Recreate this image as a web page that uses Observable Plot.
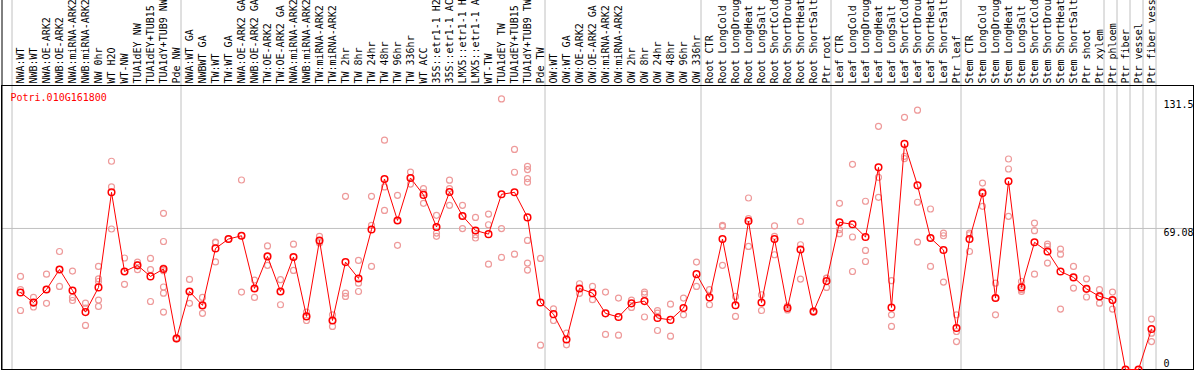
<!DOCTYPE html>
<html><head><meta charset="utf-8">
<script src="https://cdn.jsdelivr.net/npm/d3@7"></script>
<script src="https://cdn.jsdelivr.net/npm/@observablehq/plot@0.6"></script>
<style>body{margin:0;background:#fff}</style>
</head><body><div id="chart"></div>
<script>
const geneId = "Potri.010G161800";
const categories = [
  "NWA:WT","NWB:WT","NWA:OE-ARK2","NWB:OE-ARK2","NWA:miRNA-ARK2","NWB:miRNA-ARK2","NW 0hr","WT H2O","WT-NW","TUA1dEY NW","TUA1dEY+TUB15 NW","TUA1dY+TUB9 NW","Pde NW",
  "NWA:WT GA","NWBWT GA","TW:WT","TW:WT GA","NWA:OE-ARK2 GA","NWB:OE-ARK2 GA","TW:OE-ARK2","TW:OE-ARK2 GA","NWA:miRNA-ARK2 GA","NWB:miRNA-ARK2 GA","TW:miRNA-ARK2","TW:miRNA-ARK2 GA","TW 2hr","TW 8hr","TW 24hr","TW 48hr","TW 96hr","TW 336hr","WT ACC","35S::etr1-1 H2O","35S::etr1-1 ACC","LMX5::etr1-1 H2O","LMX5::etr1-1 ACC","WT-TW","TUA1dEY TW","TUA1dEY+TUB15 TW","TUA1dY+TUB9 TW","Pde TW",
  "OW:WT","OW:WT GA","OW:OE-ARK2","OW:OE-ARK2 GA","OW:miRNA-ARK2","OW:miRNA-ARK2 GA","OW 2hr","OW 8hr","OW 24hr","OW 48hr","OW 96hr","OW 336hr",
  "Root CTR","Root LongCold","Root LongDrought","Root LongHeat","Root LongSalt","Root ShortCold","Root ShortDrought","Root ShortHeat","Root ShortSalt","Ptr root",
  "Leaf CTR","Leaf LongCold","Leaf LongDrought","Leaf LongHeat","Leaf LongSalt","Leaf ShortCold","Leaf ShortDrought","Leaf ShortHeat","Leaf ShortSalt","Ptr leaf",
  "Stem CTR","Stem LongCold","Stem LongDrought","Stem LongHeat","Stem LongSalt","Stem ShortCold","Stem ShortDrought","Stem ShortHeat","Stem ShortSalt","Ptr shoot","Ptr xylem",
  "Ptr phloem","Ptr fiber","Ptr vessel","Ptr fiber vessel"
];
const means = [
  37.7,32.8,39.2,49.0,38.7,28.1,40.2,86.8,48.0,51.0,45.6,49.2,15.2,
  38.2,31.4,59.3,63.9,65.5,39.7,55.4,38.2,55.1,26.0,63.2,24.0,52.6,44.6,68.6,93.3,73.0,93.8,85.5,69.8,86.9,75.2,68.1,66.3,85.8,86.8,74.5,32.8,
  27.1,14.7,39.7,37.4,27.5,25.7,32.4,33.5,25.2,24.3,30.1,46.7,
  35.3,63.9,31.5,72.7,32.8,63.9,30.1,58.8,28.4,43.3,
  72.1,71.1,64.9,99.0,30.4,110.5,90.2,64.4,58.5,20.3,
  63.9,86.4,35.0,92.2,40.2,62.3,57.8,48.0,45.1,39.5,35.8,
  34.0,0,0,19.8
];
const replicates = [
  [45.6,39.1,28.9],[35.3,32.4,30.6],[46.7,39.2,32.4],[57.8,49.0,40.7],[48.2,35.3,33.8],[32.5,30.1,21.6],[50.5,44.4,43.1,34.0,30.9],[102.0,89.4,68.8],[54.6,48.0,41.7],[52.6,51.3,48.9],[54.4,48.9,33.3],[76.5,62.7,49.7,48.4,40.4,37.4,28.1],[15.5,15.0],
  [44.1,38.2,32.4],[35.3,31.4,27.5],[62.4,62.1,52.7],[63.9],[92.8,65.5,37.9],[43.8,39.7,35.3],[60.5,55.4,51.0],[44.0,38.2,31.7],[61.4,55.1,48.5],[28.1,26.0,24.0],[65.2,62.4,62.0],[26.8,24.0,21.1],[84.8,37.4,35.8],[53.4,42.3,38.2],[84.8,70.6,50.5],[112.3,89.4,77.9],[85.3,73.0,60.8],[96.7,93.8,90.8],[88.6,86.6,81.4],[75.5,69.8,66.8,65.2],[92.7,88.6,80.4],[80.4,75.2,69.0],[74.5,66.0,64.4],[76.1,70.9,51.6],[132.5,69.0,54.9],[107.8,96.6,56.5],[99.5,97.9,93.5,91.7,63.2,52.1,48.7],[54.4,11.9],
  [29.7,24.0],[17.8,12.1],[42.0,37.3],[40.7,34.2],[37.9,17.2],[35.0,16.8],[34.0,30.4],[37.9,36.9,25.7],[28.8,27.6,19.1],[32.0,16.3],[35.0,26.8],[52.6,40.7],
  [39.1,31.7],[70.6,70.1,51.0],[35.8,26.0],[84.0,73.9,60.3],[36.6,28.9],[70.3,65.2,56.2],[31.0,29.2],[72.5,61.1,44.3],[28.7,28.1],[44.8,44.6,40.2],
  [81.4,68.5,66.5],[100.5,64.9,48.0],[82.4,58.3,52.9],[119.1,94.1,84.3],[43.5,26.8,21.1],[123.5,104.4,103.3],[127.0,81.9,62.4],[78.6,64.4,50.5],[66.8,65.5,42.8],[26.8,18.6,13.7],
  [66.8,66.0,57.8],[91.3,87.3,79.9],[42.3,35.0,26.8],[103.1,98.2,75.0],[43.1,39.1,38.2],[71.7,68.0,46.7],[61.4,60.3,52.1],[59.0,56.5,29.6],[50.5,45.1,39.9],[44.4,39.5,35.5],[39.1,35.5,32.5],
  [37.9,33.8,29.6],[0],[0],[24.7,17.8,13.7]
];
const groupSizes = [13, 28, 12, 10, 10, 11, 1, 1, 1, 1];
const yTicks = [0, 69.08, 131.5];
const refLine = 69.08;

const meanData = categories.map((c, i) => ({cat: c, value: means[i]}));
const repData = categories.flatMap((c, i) => replicates[i].map(v => ({cat: c, value: v})));
let acc = 0;
const boundaries = groupSizes.map(s => { const c = categories[acc]; acc += s; return c; });
const lastCat = categories[categories.length - 1];

const chart = Plot.plot({
  width: 1194, height: 370,
  marginTop: 86, marginBottom: 1, marginLeft: 11, marginRight: 39,
  style: {fontFamily: "'DejaVu Sans Mono', monospace", fontSize: "10px", background: "white", color: "black"},
  x: {type: "point", domain: categories, padding: 0.5, axis: null},
  y: {domain: [0, 138.6], axis: null},
  marks: [
    Plot.ruleY([refLine], {stroke: "#c0c0c0", insetLeft: -10, insetRight: -38}),
    Plot.ruleX(boundaries, {x: d => d, dx: -6.5, stroke: "#c0c0c0", insetTop: -86}),
    Plot.ruleX([lastCat], {x: d => d, dx: 6.5, stroke: "#c0c0c0", insetTop: -86}),
    Plot.frame({stroke: "black", insetLeft: -10, insetRight: -38, insetTop: -1}),
    Plot.ruleX([categories[0]], {x: d => d, dx: -16.5, stroke: "black", insetTop: -86}),
    Plot.text(categories, {x: d => d, frameAnchor: "top", rotate: -90, textAnchor: "start", lineAnchor: "middle", dy: -3, dx: 2, fill: "black"}),
    Plot.text([geneId], {frameAnchor: "top-left", textAnchor: "start", lineAnchor: "top", dx: -1, dy: 7, fill: "red"}),
    Plot.text(yTicks.filter(d => d > 0), {y: d => d, frameAnchor: "right", textAnchor: "start", lineAnchor: "top", dx: 8, fill: "black"}),
    Plot.text(yTicks.filter(d => d === 0), {y: d => d, frameAnchor: "right", textAnchor: "start", lineAnchor: "bottom", dx: 8, dy: -3, fill: "black"}),
    Plot.dot(repData, {x: "cat", y: "value", r: 3, stroke: "#ee9a9a", strokeWidth: 1.2, fill: "none", dx: 2}),
    Plot.line(meanData, {x: "cat", y: "value", stroke: "red", strokeWidth: 1, dx: 2}),
    Plot.dot(meanData, {x: "cat", y: "value", r: 3.3, stroke: "red", strokeWidth: 1.5, fill: "none", dx: 2})
  ]
});
document.getElementById("chart").appendChild(chart);
</script>
</body></html>
